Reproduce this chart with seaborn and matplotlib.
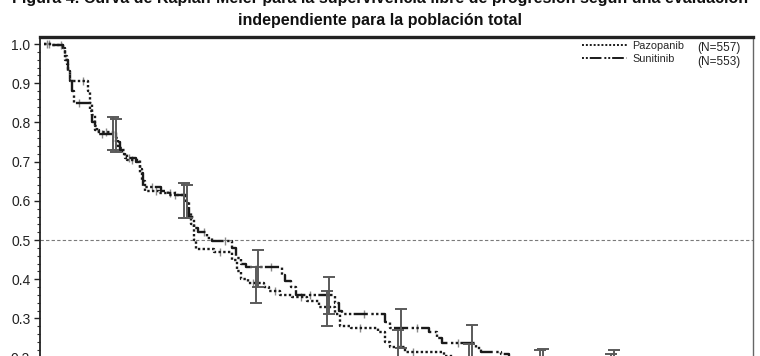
import numpy as np
import pandas as pd
import matplotlib
matplotlib.use("Agg")
import matplotlib.pyplot as plt
from matplotlib.lines import Line2D
from matplotlib.ticker import MultipleLocator
import seaborn as sns

# Kaplan-Meier step points: time (months) and survival probability
paz_t = [0.0, 0.5, 1.1, 1.2, 1.3, 1.4, 1.5, 2.5, 2.6, 2.75, 2.9, 3.0, 4.1, 4.2, 4.4,
         4.7, 5.4, 5.55, 5.7, 6.5, 7.5, 8.0, 8.15, 8.3, 8.45, 8.6, 9.6, 10.6, 10.9,
         11.1, 11.5, 12.4, 12.7, 13.3, 14.0, 14.8, 15.5, 16.4, 16.65, 17.3, 18.8,
         19.2, 19.5, 20.3, 22.5, 23.0, 25.0, 28.0, 32.0, 35.0, 36.0]
paz_s = [1.0, 0.997, 0.99, 0.97, 0.95, 0.93, 0.905, 0.88, 0.85, 0.82, 0.79, 0.775, 0.76,
         0.735, 0.72, 0.705, 0.68, 0.65, 0.625, 0.62, 0.615, 0.60, 0.57, 0.54, 0.50,
         0.477, 0.47, 0.45, 0.42, 0.40, 0.39, 0.38, 0.37, 0.36, 0.355, 0.345, 0.33,
         0.31, 0.28, 0.275, 0.265, 0.24, 0.227, 0.215, 0.205, 0.195, 0.19, 0.18, 0.17,
         0.16, 0.16]

sun_t = [0.0, 0.5, 1.1, 1.2, 1.35, 1.5, 1.6, 1.7, 2.6, 2.75, 2.9, 3.1, 4.1, 4.3, 4.6,
         5.2, 5.4, 5.6, 6.6, 7.0, 8.0, 8.2, 8.45, 8.7, 9.2, 9.5, 10.6, 10.8, 11.1,
         11.4, 13.4, 13.6, 13.9, 14.2, 16.4, 16.6, 16.8, 19.2, 19.5, 21.7, 22.1, 22.4,
         24.3, 24.6, 25.7, 26.2, 28.0, 31.0, 35.0, 36.0]
sun_s = [1.0, 0.997, 0.99, 0.96, 0.93, 0.91, 0.88, 0.85, 0.83, 0.80, 0.78, 0.77, 0.75,
         0.73, 0.71, 0.70, 0.67, 0.635, 0.625, 0.615, 0.60, 0.56, 0.53, 0.52, 0.505,
         0.497, 0.48, 0.455, 0.44, 0.43, 0.41, 0.395, 0.38, 0.36, 0.34, 0.32, 0.31,
         0.29, 0.275, 0.265, 0.25, 0.237, 0.225, 0.215, 0.21, 0.20, 0.19, 0.18, 0.17,
         0.17]

# 95% confidence intervals at fixed landmark times
ci_t = [4, 8, 12, 16, 20, 24, 28, 32]
paz_lo = [0.73, 0.555, 0.34, 0.28, 0.18, 0.15, 0.14, 0.13]
paz_hi = [0.815, 0.645, 0.43, 0.37, 0.27, 0.235, 0.22, 0.21]
sun_lo = [0.725, 0.555, 0.38, 0.31, 0.225, 0.19, 0.15, 0.14]
sun_hi = [0.81, 0.64, 0.475, 0.405, 0.325, 0.283, 0.222, 0.22]

# Censoring times
paz_cens = [0.3, 1.0, 2.2, 3.5, 5.0, 6.3, 7.1, 9.9, 11.8, 13.0, 14.5, 17.8, 20.8, 23.5]
sun_cens = [0.2, 2.0, 3.3, 4.8, 6.1, 7.4, 9.0, 10.2, 12.8, 15.0, 18.0, 21.0, 23.3]

series_names = ["Pazopanib", "Sunitinib"]
series_n = ["(N=557)", "(N=553)"]
series_dashes = {"Pazopanib": (1, 1), "Sunitinib": (1, 1, 1, 1, 6, 1.5)}
yticks = [0.2, 0.3, 0.4, 0.5, 0.6, 0.7, 0.8, 0.9, 1.0]
title_lines = ["Figura 4. Curva de Kaplan-Meier para la supervivencia libre de progresión según una evaluación",
               "independiente para la población total"]

sns.set_theme(style="white")
plt.rcParams['font.family'] = ['Liberation Sans', 'DejaVu Sans']

W, H = 760, 356
fig = plt.figure(figsize=(W / 100, H / 100), dpi=100)
# axes run past the lower edge of the canvas
ax = fig.add_axes([40 / W, 1 - 436 / H, 713 / W, 399 / H])

df = pd.concat([
    pd.DataFrame({"Mes": paz_t, "Supervivencia": paz_s, "Tratamiento": "Pazopanib"}),
    pd.DataFrame({"Mes": sun_t, "Supervivencia": sun_s, "Tratamiento": "Sunitinib"}),
], ignore_index=True)

line_col = "#1a1a1a"
sns.lineplot(data=df, x="Mes", y="Supervivencia", style="Tratamiento",
             dashes=series_dashes, color=line_col, lw=1.7,
             drawstyle="steps-post", estimator=None, legend=False, ax=ax, zorder=3)

def step_value(ts, ss, c):
    i = np.searchsorted(ts, c, side="right") - 1
    return np.asarray(ss)[i]

for ts, ss, cens in [(paz_t, paz_s, paz_cens), (sun_t, sun_s, sun_cens)]:
    cv = [step_value(ts, ss, c) for c in cens]
    ax.plot(cens, cv, ls="none", marker="|", ms=6, mew=1.0, color="#8a8a8a", zorder=2)

ci = np.array(ci_t, dtype=float)
for off, lo, hi in [(-0.08, paz_lo, paz_hi), (0.08, sun_lo, sun_hi)]:
    lo = np.array(lo); hi = np.array(hi)
    ax.errorbar(ci + off, (lo + hi) / 2, yerr=(hi - lo) / 2, fmt="none",
                ecolor="#5a5a5a", elinewidth=1.4, capsize=4, capthick=1.4, zorder=4)

ax.axhline(0.5, color="#7a7a7a", lw=0.8, ls=(0, (3, 2)), zorder=1)

ax.set_xlim(-0.2, 39.9)
ax.set_ylim(0.0, 1.018)
ax.set_xticks([])
ax.set_yticks(yticks)
ax.set_yticklabels([f"{v:.1f}" for v in yticks])
ax.yaxis.set_minor_locator(MultipleLocator(0.02))
ax.tick_params(axis="y", which="major", left=True, direction="out", length=4,
               width=1.0, labelsize=10, pad=3, colors="#222222")
ax.tick_params(axis="y", which="minor", left=True, direction="out", length=2.2,
               width=0.8, colors="#333333")
ax.set_xlabel("")
ax.set_ylabel("")

ax.spines["top"].set_linewidth(2.4)
ax.spines["top"].set_color("#222222")
ax.spines["left"].set_linewidth(1.3)
ax.spines["left"].set_color("#222222")
ax.spines["right"].set_linewidth(1.0)
ax.spines["right"].set_color("#666666")
ax.spines["bottom"].set_visible(False)

handles = [Line2D([], [], color=line_col, lw=1.4, dashes=series_dashes[n]) for n in series_names]
ax.legend(handles, series_names, loc="upper left", bbox_to_anchor=(0.760, 0.99),
          frameon=False, fontsize=7.8, handlelength=4.2, handletextpad=0.45,
          labelspacing=0.25, borderpad=0, borderaxespad=0)
for k, txt in enumerate(series_n):
    fig.text(697 / W, 1 - (48 + 14 * k) / H, txt, va="center", ha="left",
             fontsize=8.5, color="#222222")

fig.text(0.5, 1 + 1 / H, title_lines[0], ha="center", va="center",
         fontsize=11.5, fontweight="bold", color="#111111")
fig.text(0.5, 1 - 20 / H, title_lines[1], ha="center", va="center",
         fontsize=11.5, fontweight="bold", color="#111111")

fig.savefig("out.png", dpi=100)
